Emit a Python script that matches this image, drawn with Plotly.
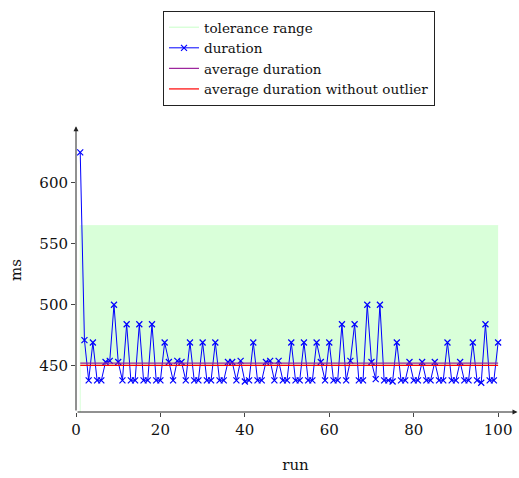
import plotly.graph_objects as go

runs = list(range(1, 101))
duration = [625, 471, 438, 469, 438, 438, 453, 454, 500, 453,
            438, 484, 438, 438, 484, 438, 438, 484, 438, 438,
            469, 453, 438, 454, 453, 438, 469, 438, 438, 469,
            438, 438, 469, 438, 438, 453, 453, 438, 454, 437,
            438, 469, 438, 438, 453, 454, 438, 454, 438, 438,
            469, 438, 438, 469, 438, 438, 469, 453, 438, 469,
            438, 438, 484, 438, 454, 484, 438, 438, 500, 453,
            439, 500, 438, 438, 437, 469, 438, 438, 453, 438,
            438, 453, 438, 438, 453, 438, 438, 469, 438, 438,
            453, 438, 438, 469, 438, 436, 484, 438, 438, 469]
tolerance_upper = 565
x_ticks = [0, 20, 40, 60, 80, 100]
y_ticks = [450, 500, 550, 600]

avg_all = sum(duration) / len(duration)
rest = duration[1:]
avg_wo = sum(rest) / len(rest)

GREEN = "#d9ffd9"
BLUE = "#0000ff"
VIOLET = "#9a1f9a"
RED = "#ff0000"
FONT = "DejaVu Serif"

x0, x1 = runs[0], runs[-1]
ymin, ymax = 412, 645

fig = go.Figure()
fig.add_trace(go.Scatter(x=[x0, x1], y=[avg_wo, avg_wo], mode="lines",
                         line=dict(width=0, color=GREEN), showlegend=False, hoverinfo="skip"))
fig.add_trace(go.Scatter(x=[x0, x1], y=[tolerance_upper, tolerance_upper], mode="lines",
                         fill="tonexty", fillcolor=GREEN, line=dict(width=0.8, color=GREEN),
                         showlegend=False, hoverinfo="skip"))
fig.add_trace(go.Scatter(x=[x0, x0], y=[ymin, tolerance_upper], mode="lines",
                         line=dict(width=1, color=GREEN), showlegend=False, hoverinfo="skip"))
fig.add_trace(go.Scatter(x=[None], y=[None], mode="lines", name="tolerance range",
                         line=dict(width=1.5, color=GREEN)))
fig.add_trace(go.Scatter(x=runs, y=duration, mode="lines+markers", name="duration",
                         line=dict(width=1, color=BLUE),
                         marker=dict(symbol="x-thin", size=6, line=dict(width=1.2, color=BLUE), color=BLUE)))
fig.add_trace(go.Scatter(x=[x0, x1], y=[avg_all, avg_all], mode="lines", name="average duration",
                         line=dict(width=1.2, color=VIOLET)))
fig.add_trace(go.Scatter(x=[x0, x1], y=[avg_wo, avg_wo], mode="lines", name="average duration without outlier",
                         line=dict(width=1.2, color=RED)))

fig.add_annotation(x=104.6, y=ymin, ax=0, ay=ymin, xref="x", yref="y", axref="x", ayref="y",
                   showarrow=True, arrowhead=2, arrowsize=1, arrowwidth=1, arrowcolor="#222", text="")
fig.add_annotation(x=0, y=ymax + 1.5, ax=0, ay=ymin, xref="x", yref="y", axref="x", ayref="y",
                   showarrow=True, arrowhead=2, arrowsize=1, arrowwidth=1, arrowcolor="#222", text="")

fig.update_layout(
    width=519, height=478,
    margin=dict(l=76, r=4, t=128, b=66),
    plot_bgcolor="white", paper_bgcolor="white",
    font=dict(family=FONT, size=15, color="#111"),
    legend=dict(x=0.508, xanchor="center", y=1.412, yanchor="top",
                traceorder="normal",
                bordercolor="#222", borderwidth=1, bgcolor="white",
                font=dict(family=FONT, size=13.5), tracegroupgap=0),
    xaxis=dict(range=[0, 104], tickvals=x_ticks, showgrid=False, zeroline=False,
               showline=False, ticks="outside", ticklen=4, tickcolor="#444",
               tickfont=dict(family=FONT, size=15),
               title=dict(text="run", standoff=21, font=dict(family=FONT, size=15))),
    yaxis=dict(range=[ymin, ymax], tickvals=y_ticks, showgrid=False, zeroline=False,
               showline=False, ticks="outside", ticklen=4, tickcolor="#444",
               tickfont=dict(family=FONT, size=15),
               title=dict(text="ms", standoff=14, font=dict(family=FONT, size=15))),
)

fig.write_html("out.html")
